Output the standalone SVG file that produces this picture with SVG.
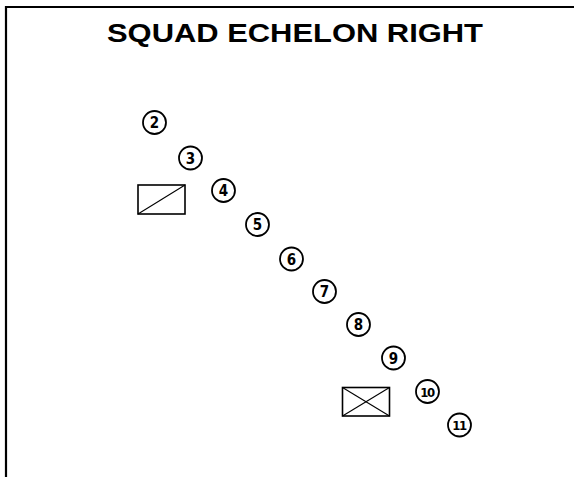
<svg xmlns="http://www.w3.org/2000/svg" width="574" height="477" viewBox="0 0 574 477">
<style>
.frame{stroke:#000;stroke-width:2.2;fill:none}
.c{fill:#fff;stroke:#000;stroke-width:1.8}
.n{font-family:"DejaVu Sans Condensed","Liberation Sans",sans-serif;font-weight:bold;font-size:15px;text-anchor:middle;fill:#000}
.n2{font-size:13px;letter-spacing:-1.5px}
.r{fill:none;stroke:#000;stroke-width:1.6}
.d{stroke:#000;stroke-width:1.1;fill:none}
.title{font-family:"Liberation Sans",Arial,sans-serif;font-weight:bold;font-size:25px;fill:#000}
</style>
<rect width="574" height="477" fill="#fff"/>
<g id="frame">
<line class="frame" x1="6" y1="7" x2="574" y2="7"/>
<line class="frame" x1="6" y1="6" x2="6" y2="477"/>
</g>
<text class="title" x="107" y="42" textLength="376" lengthAdjust="spacingAndGlyphs">SQUAD ECHELON RIGHT</text>
<g id="leader1">
<rect class="r" x="138" y="185" width="47" height="29"/>
<line class="d" x1="138" y1="214" x2="185" y2="185"/>
</g>
<g id="leader2">
<rect class="r" x="342.5" y="387.5" width="47" height="28.5"/>
<line class="d" x1="342.5" y1="387.5" x2="389.5" y2="416"/>
<line class="d" x1="342.5" y1="416" x2="389.5" y2="387.5"/>
</g>
<g id="s2"><circle class="c" cx="154.5" cy="122.5" r="11.5"/><text class="n" x="154.5" y="128">2</text></g>
<g id="s3"><circle class="c" cx="190.5" cy="158" r="11.5"/><text class="n" x="190.5" y="163.5">3</text></g>
<g id="s4"><circle class="c" cx="223.5" cy="190.5" r="11.5"/><text class="n" x="223.5" y="196">4</text></g>
<g id="s5"><circle class="c" cx="257.5" cy="224.5" r="11.5"/><text class="n" x="257.5" y="230">5</text></g>
<g id="s6"><circle class="c" cx="291.5" cy="259" r="11.5"/><text class="n" x="291.5" y="264.5">6</text></g>
<g id="s7"><circle class="c" cx="324.5" cy="291.5" r="11.5"/><text class="n" x="324.5" y="297">7</text></g>
<g id="s8"><circle class="c" cx="358.5" cy="324.5" r="11.5"/><text class="n" x="358.5" y="330">8</text></g>
<g id="s9"><circle class="c" cx="393.5" cy="358" r="11.5"/><text class="n" x="393.5" y="363.5">9</text></g>
<g id="s10"><circle class="c" cx="427.5" cy="391.5" r="11.5"/><text class="n n2" x="427" y="396.5">10</text></g>
<g id="s11"><circle class="c" cx="459.5" cy="425" r="11.5"/><text class="n n2" x="459" y="430">11</text></g>
</svg>
